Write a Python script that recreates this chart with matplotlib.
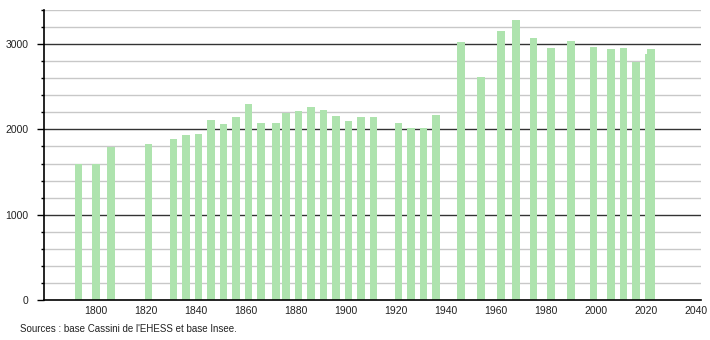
import matplotlib
matplotlib.use("Agg")
import matplotlib.pyplot as plt
from matplotlib.ticker import MultipleLocator, FixedLocator

plt.rcParams['font.family'] = ['Liberation Sans', 'DejaVu Sans']

years = [1793, 1800, 1806, 1821, 1831, 1836, 1841, 1846, 1851, 1856, 1861, 1866,
         1872, 1876, 1881, 1886, 1891, 1896, 1901, 1906, 1911, 1921, 1926, 1931,
         1936, 1946, 1954, 1962, 1968, 1975, 1982, 1990, 1999, 2006, 2011, 2016,
         2021, 2022]
population = [1597, 1597, 1796, 1824, 1886, 1933, 1941, 2106, 2059, 2141, 2294, 2074,
              2074, 2196, 2212, 2267, 2224, 2153, 2094, 2141, 2141, 2078, 2012, 2012,
              2169, 3020, 2620, 3153, 3286, 3067, 2949, 3031, 2961, 2937, 2949, 2796,
              2880, 2940]
x_ticks = [1800, 1820, 1840, 1860, 1880, 1900, 1920, 1940, 1960, 1980, 2000, 2020, 2040]
y_major = [0, 1000, 2000, 3000]
source_text = "Sources : base Cassini de l'EHESS et base Insee."

fig = plt.figure(figsize=(7.1, 3.4), dpi=100)
ax = fig.add_axes([44/710, 1 - 300/340, (701 - 44)/710, 290/340])

x0, x1 = 1779.2, 2042
ax.set_xlim(x0, x1)
ax.set_ylim(0, 3400)

# grid lines
for v in range(200, 3401, 200):
    if v % 1000 == 0:
        ax.axhline(v, color='#333333', lw=1.0, zorder=1)
    else:
        ax.axhline(v, color='#c8c8c8', lw=1.0, zorder=1)

ax.bar(years, population, width=3.0, color='#aee3ae', edgecolor='none', zorder=2)

for s in ['top', 'right']:
    ax.spines[s].set_visible(False)
ax.spines['left'].set_color('black')
ax.spines['bottom'].set_color('black')
ax.spines['left'].set_linewidth(1.2)
ax.spines['bottom'].set_linewidth(1.2)
ax.spines['left'].set_zorder(3)
ax.spines['bottom'].set_zorder(3)

ax.yaxis.set_major_locator(FixedLocator(y_major))
ax.yaxis.set_minor_locator(MultipleLocator(200))
ax.tick_params(axis='y', which='major', length=5, width=1, color='black',
               labelsize=7.5, labelcolor='#222222', pad=6)
ax.tick_params(axis='y', which='minor', length=2, width=1, color='black')

ax.xaxis.set_major_locator(FixedLocator(x_ticks))
ax.tick_params(axis='x', which='major', length=0, labelsize=7.5,
               labelcolor='#222222', pad=4)

fig.text(20/710, 1 - 329/340, source_text, fontsize=7, color='#222222',
         ha='left', va='center')

fig.savefig('out.png', dpi=100, facecolor='white')
